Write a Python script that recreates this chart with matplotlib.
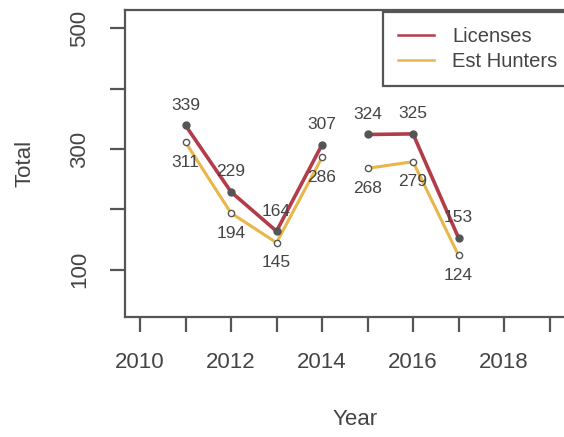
import matplotlib
matplotlib.use('Agg')
import matplotlib.pyplot as plt
import numpy as np

plt.rcParams['font.family'] = ['Liberation Sans', 'DejaVu Sans']

years = [2011, 2012, 2013, 2014, 2015, 2016, 2017]
licenses = [339, 229, 164, 307, 324, 325, 153]
est_hunters = [311, 194, 145, 286, 268, 279, 124]
# line is broken between these groups
groups = [[0, 1, 2, 3], [4, 5, 6]]

lic_color = '#b23c4a'
hun_color = '#e8b64a'
txt_color = '#444444'
axis_color = '#555555'

fig = plt.figure(figsize=(5.64, 4.37), dpi=100)
ax = fig.add_axes([125 / 564, 120 / 437, 460 / 564, 307 / 437])

for g in groups:
    x = [years[i] for i in g]
    ax.plot(x, [est_hunters[i] for i in g], color=hun_color, lw=2.2, zorder=2,
            marker='o', ms=4.5, mfc='white', mec='#555555', mew=1.0)
    ax.plot(x, [licenses[i] for i in g], color=lic_color, lw=2.6, zorder=3,
            marker='o', ms=5, mfc='#555555', mec='#555555')

for x, v in zip(years, licenses):
    ax.annotate(str(v), (x, v), xytext=(0, 14.5), textcoords='offset points',
                ha='center', va='center', fontsize=12.5, color=txt_color, zorder=4)
for x, v in zip(years, est_hunters):
    ax.annotate(str(v), (x, v), xytext=(0, -14.5), textcoords='offset points',
                ha='center', va='center', fontsize=12.5, color=txt_color, zorder=4)

ax.set_xlim(2009.67, 2009.67 + 460 / 45.5)
ax.set_ylim(22, 530)

ax.set_xticks(range(2010, 2020))
ax.set_xticklabels([str(y) if y % 2 == 0 else '' for y in range(2010, 2020)])
ax.set_yticks([100, 200, 300, 400, 500])
ax.set_yticklabels(['100', '', '300', '', '500'], rotation=90, va='center')

ax.tick_params(axis='both', length=11, width=1.6, color=axis_color,
               labelcolor=txt_color, labelsize=16, pad=14)

for s in ax.spines.values():
    s.set_color(axis_color)
    s.set_linewidth(1.6)

ax.set_xlabel('Year', fontsize=16, color=txt_color, labelpad=26)
ax.set_ylabel('Total', fontsize=16, color=txt_color, labelpad=24)

leg = ax.legend([plt.Line2D([], [], color=lic_color, lw=1.8),
                 plt.Line2D([], [], color=hun_color, lw=1.8)],
                ['Licenses', 'Est Hunters'], loc='upper left',
                bbox_to_anchor=(258 / 460, 1 - 2 / 307), fontsize=14.5, fancybox=False,
                framealpha=1, edgecolor=axis_color, handlelength=1.8,
                handletextpad=0.9, borderpad=0.75, borderaxespad=0.0,
                labelspacing=0.3)
leg.get_frame().set_linewidth(1.6)
for t in leg.get_texts():
    t.set_color(txt_color)

fig.savefig('out.png', dpi=100)
